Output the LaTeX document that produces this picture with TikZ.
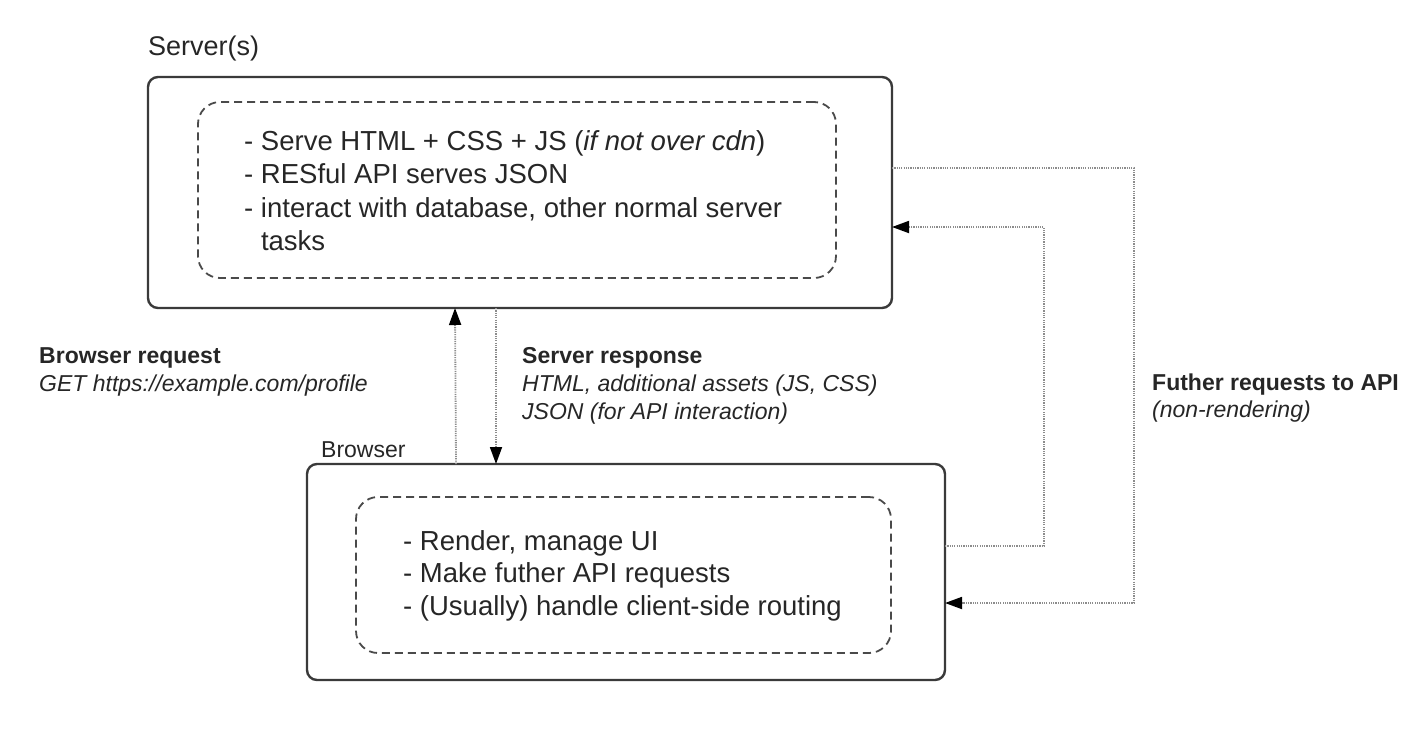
\documentclass[tikz,border=0pt]{standalone}
\usepackage{fontspec}
\setmainfont{Liberation Sans}
\usetikzlibrary{arrows.meta}
\definecolor{boxc}{HTML}{3A3A3A}
\definecolor{dashc}{HTML}{4A4A4A}
\definecolor{dotc}{HTML}{8C8C8C}
\definecolor{txtc}{HTML}{262626}
\begin{document}
\begin{tikzpicture}[x=1pt,y=-1pt,
  outerbox/.style={draw=boxc, line width=2.4pt, rounded corners=10pt, anchor=north west, inner sep=0pt, outer sep=0pt},
  innerbox/.style={draw=dashc, line width=1.8pt, dash pattern=on 8pt off 5pt, rounded corners=22pt, anchor=north west, inner sep=0pt, outer sep=0pt},
  conn/.style={draw=dotc, line width=1.8pt, dash pattern=on 1.2pt off 1.1pt},
  tipend/.style={-{Triangle[length=17pt,width=12pt,fill=black,color=black]}},
  bodytxt/.style={font=\fontsize{27.5}{33}\selectfont, text=txtc, inner sep=0pt, anchor=base west},
  labtxt/.style={font=\fontsize{23}{28}\selectfont, text=txtc, inner sep=0pt, anchor=base west},
  headtxt/.style={font=\fontsize{27}{32}\selectfont, text=txtc, inner sep=0pt, anchor=base west}
]
\useasboundingbox (0,0) rectangle (1420,752);

% Server
\node[headtxt] (servlabel) at (148,56) {Server(s)};
\node[outerbox, minimum width=744pt, minimum height=231pt] (server) at (148,77) {};
\node[innerbox, minimum width=638pt, minimum height=176pt] (serverin) at (198,102) {};
\node[bodytxt] (s1) at (244,150) {- Serve HTML + CSS + JS (\textit{if not over cdn})};
\node[bodytxt] (s2) at (244,183.5) {- RESful API serves JSON};
\node[bodytxt] (s3) at (244,217) {- interact with database, other normal server};
\node[bodytxt] (s4) at (244,250.5) {\phantom{- }tasks};

% Browser
\node[labtxt] (browlabel) at (321,457) {Browser};
\node[outerbox, minimum width=638pt, minimum height=216pt] (browser) at (307,464) {};
\node[innerbox, minimum width=535pt, minimum height=156pt] (browserin) at (356,497) {};
\node[bodytxt] (b1) at (403,550) {- Render, manage UI};
\node[bodytxt] (b2) at (403,582.5) {- Make futher API requests};
\node[bodytxt] (b3) at (403,615) {- (Usually) handle client-side routing};

% Labels
\node[labtxt] (reqh) at (39,363) {\textbf{Browser request}};
\node[labtxt] (reqt) at (39,391) {\textit{GET https://example.com/profile}};
\node[labtxt] (resh) at (522,363) {\textbf{Server response}};
\node[labtxt] (rest1) at (522,391) {\textit{HTML, additional assets (JS, CSS)}};
\node[labtxt] (rest2) at (522,419) {\textit{JSON (for API interaction)}};
\node[labtxt] (furh) at (1152,390) {\textbf{Futher requests to API}};
\node[labtxt] (furt) at (1152,417) {\textit{(non-rendering)}};

% Vertical connectors
\draw[conn,tipend] ([xshift=149pt]browser.north west) -- ([xshift=307pt]server.south west);
\draw[conn,tipend] ([xshift=348pt]server.south west) -- ([xshift=189pt]browser.north west);

% Right-hand connectors
\draw[conn,tipend] ([yshift=-91pt]server.north east) -- ++(242,0) |- ([yshift=77pt]browser.south east);
\draw[conn,tipend] ([yshift=-82pt]browser.north east) -- ++(99,0) |- ([yshift=-150pt]server.north east);
\end{tikzpicture}
\end{document}
